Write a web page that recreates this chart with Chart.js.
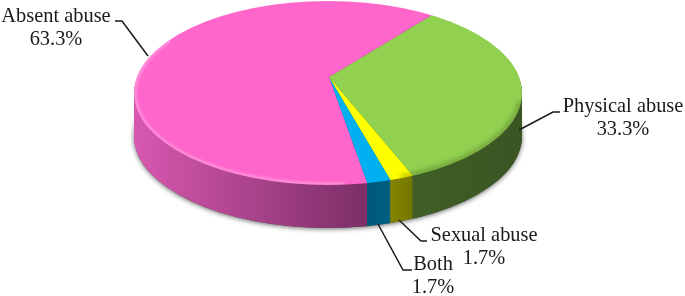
<!DOCTYPE html>
<html lang="en">
<head>
    <meta charset="UTF-8">
    <title>Abuse types</title>
    <script src="https://cdn.jsdelivr.net/npm/chart.js"></script>
    <style>
        html, body { margin: 0; background: #fff; }
        canvas { display: block; }
    </style>
</head>
<body>
    <canvas id="myChart" width="685" height="296"></canvas>

    <script>
        const categories = ['Physical abuse', 'Sexual abuse', 'Both', 'Absent abuse'];
        const values = [33.3, 1.7, 1.7, 63.3];

        const topColors = ['#92d050', '#ffff00', '#00b0f0', '#ff66cc'];
        // left and right colour of the wall of each slice
        const wallColors = [
            ['#405e27', '#3a5522'],
            ['#858500', '#757600'],
            ['#00597a', '#005f82'],
            ['#d858b0', '#7b2e66']
        ];

        // where each label goes: centre x, first baseline, then the leader line
        const labelSpots = [
            { x: 623, y: 112, line: [[560, 112], [553, 112], [519, 130]] },
            { x: 484, y: 241, line: [[427, 241], [421, 241], [399, 220]] },
            { x: 433, y: 270, line: [[412, 270], [403, 270], [378, 224]] },
            { x: 56, y: 22, line: [[115, 21], [122, 21], [148, 56]] }
        ];

        // the picture is in perspective, so the apex is above the middle of the ellipse
        const pie = { cx: 328, cy: 93, rx: 194, ry: 92, apexX: 329, apexY: 77, depth: 43, grow: 1.7 };
        const squash = pie.ry / pie.rx;

        function ellipsePath(ctx, dy) {
            ctx.beginPath();
            ctx.ellipse(pie.cx, pie.cy + dy, pie.rx, pie.ry, 0, 0, Math.PI * 2);
        }

        function placeSlices(ctx, arc, dy) {
            ctx.translate(pie.apexX, pie.apexY + dy);
            ctx.scale(pie.grow, pie.grow * squash);
            ctx.translate(-arc.x, -arc.y);
        }

        function drawArcWith(arc, ctx, fill) {
            const opts = arc.options;
            arc.options = Object.create(opts, { backgroundColor: { value: fill } });
            arc.draw(ctx);
            arc.options = opts;
        }

        function rimStroke(ctx, from, to, color, width) {
            ctx.beginPath();
            ctx.ellipse(pie.cx, pie.cy, pie.rx - 1, pie.ry - 1, 0, from * Math.PI / 180, to * Math.PI / 180);
            ctx.strokeStyle = color;
            ctx.lineWidth = width;
            ctx.stroke();
        }

        const pie3d = {
            id: 'pie3d',
            beforeDatasetsDraw(chart) {
                const ctx = chart.ctx;
                const arcs = chart.getDatasetMeta(0).data;
                const first = arcs[0];
                const toChartX = x => first.x + (x - pie.apexX) / pie.grow;

                // soft shadow under the disc
                ctx.save();
                ctx.shadowColor = 'rgba(0,0,0,0.6)';
                ctx.shadowBlur = 5;
                ctx.shadowOffsetY = 1;
                ctx.fillStyle = '#555';
                ellipsePath(ctx, pie.depth);
                ctx.fill();
                ctx.restore();

                // wall: same slices again, stacked from the bottom up
                const fills = wallColors.map((pair, i) => {
                    const ranges = [[413, 522], [390, 413], [367, 390], [134, 367]];
                    const g = ctx.createLinearGradient(toChartX(ranges[i][0]), 0, toChartX(ranges[i][1]), 0);
                    g.addColorStop(0, pair[0]);
                    g.addColorStop(1, pair[1]);
                    return g;
                });
                for (let dy = pie.depth; dy > 0; dy--) {
                    ctx.save();
                    ellipsePath(ctx, dy);
                    ctx.clip();
                    placeSlices(ctx, first, dy);
                    arcs.forEach((arc, i) => drawArcWith(arc, ctx, fills[i]));
                    ctx.restore();
                }

                // top face
                ctx.save();
                ellipsePath(ctx, 0);
                ctx.clip();
                ctx.save();
                placeSlices(ctx, first, 0);
                arcs.forEach(arc => arc.draw(ctx));
                ctx.restore();

                // bevel along the rim
                ctx.filter = 'blur(1px)';
                rimStroke(ctx, 85, 215, 'rgba(255,255,255,0.3)', 3);
                ctx.filter = 'blur(2px)';
                rimStroke(ctx, 5, 68, 'rgba(45,70,20,0.3)', 5);
                ctx.restore();

                return false;
            },
            afterDraw(chart) {
                const ctx = chart.ctx;
                ctx.save();
                ctx.font = '20.4px "Liberation Serif"';
                ctx.fillStyle = '#1a1a1a';
                ctx.strokeStyle = '#1a1a1a';
                ctx.lineWidth = 1.5;
                ctx.textAlign = 'center';
                categories.forEach((name, i) => {
                    const spot = labelSpots[i];
                    ctx.fillText(name, spot.x, spot.y);
                    ctx.fillText(values[i].toFixed(1) + '%', spot.x, spot.y + 23);
                    ctx.beginPath();
                    spot.line.forEach(p => ctx.lineTo(p[0], p[1]));
                    ctx.stroke();
                });
                ctx.restore();
            }
        };

        new Chart(document.getElementById('myChart'), {
            type: 'pie',
            data: {
                labels: categories,
                datasets: [{
                    data: values,
                    backgroundColor: topColors,
                    borderWidth: 0
                }]
            },
            options: {
                responsive: false,
                animation: false,
                rotation: 38.2,
                plugins: {
                    legend: { display: false },
                    tooltip: { enabled: false }
                }
            },
            plugins: [pie3d]
        });
    </script>
</body>
</html>
